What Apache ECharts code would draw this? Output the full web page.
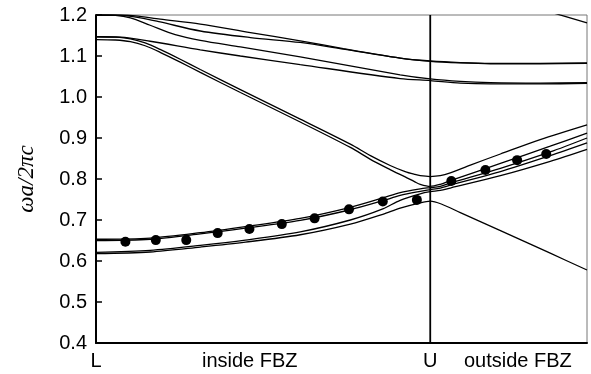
<!DOCTYPE html>
<html>
<head>
<meta charset="utf-8">
<script src="https://cdn.jsdelivr.net/npm/echarts@6/dist/echarts.min.js"></script>
<style>
  html, body { margin: 0; padding: 0; background: #fff; }
  #band-chart { width: 591px; height: 374px; }
</style>
</head>
<body>
<div id="band-chart"></div>
<script>
// k along the path: L = 0, U = 1, beyond U is outside the first Brillouin zone
const xTickPositions = [0, 0.46, 1, 1.262];
const xTickLabels = ['L', 'inside FBZ', 'U', 'outside FBZ'];

// upper bands starting at 1.2 / 1.147
const bandT1 = [[0,1.2],[0.073,1.2],[0.118,1.198],[0.192,1.19],[0.312,1.178],[0.462,1.157],[0.611,1.137],[0.74,1.118],[0.91,1.095],[1,1.087],[1.09,1.083],[1.18,1.081],[1.329,1.081],[1.469,1.082]];
const bandT2 = [[0,1.2],[0.073,1.199],[0.133,1.193],[0.192,1.183],[0.312,1.161],[0.462,1.145],[0.611,1.133],[0.74,1.117],[0.91,1.095],[1,1.088],[1.09,1.084],[1.18,1.082],[1.329,1.082],[1.469,1.083]];
const bandT3 = [[0,1.2],[0.058,1.199],[0.103,1.193],[0.162,1.175],[0.237,1.152],[0.312,1.138],[0.432,1.122],[0.611,1.098],[0.91,1.054],[1,1.044],[1.09,1.038],[1.18,1.035],[1.329,1.034],[1.469,1.035]];
const bandT4 = [[0,1.147],[0.073,1.146],[0.162,1.136],[0.312,1.115],[0.432,1.1],[0.611,1.079],[0.91,1.045],[1,1.04],[1.09,1.034],[1.18,1.032],[1.329,1.032],[1.469,1.033]];
const bandTopRight = [[1.36,1.207],[1.469,1.181]];

// steep pair from 1.145 down to U
const bandS1 = [[0,1.147],[0.058,1.146],[0.103,1.142],[0.147,1.132],[0.192,1.116],[0.252,1.092],[0.312,1.067],[0.432,1.018],[0.611,0.946],[0.761,0.885],[0.821,0.857],[0.88,0.833],[0.925,0.818],[0.954,0.811],[0.97,0.808],[1,0.806],[1.03,0.808],[1.06,0.815],[1.12,0.834],[1.21,0.861],[1.329,0.896],[1.469,0.932]];
const bandS2 = [[0,1.14],[0.058,1.139],[0.103,1.135],[0.147,1.125],[0.192,1.109],[0.252,1.085],[0.312,1.06],[0.432,1.011],[0.611,0.939],[0.761,0.877],[0.821,0.848],[0.88,0.823],[0.925,0.805],[0.954,0.793],[0.97,0.787],[1,0.782],[1.03,0.787],[1.06,0.796],[1.21,0.838],[1.359,0.88],[1.469,0.912]];

// lower bands starting at 0.65 / 0.62
const bandB1 = [[0,0.653],[0.162,0.656],[0.312,0.669],[0.447,0.684],[0.611,0.704],[0.761,0.731],[0.858,0.754],[0.91,0.767],[0.97,0.776],[1,0.779],[1.03,0.782],[1.06,0.79],[1.21,0.826],[1.359,0.866],[1.469,0.9]];
const bandB2 = [[0,0.65],[0.162,0.653],[0.312,0.666],[0.447,0.68],[0.611,0.699],[0.761,0.725],[0.858,0.747],[0.91,0.76],[0.97,0.77],[1,0.774],[1.03,0.778],[1.06,0.785],[1.21,0.818],[1.359,0.857],[1.469,0.888]];
const bandB3 = [[0,0.618],[0.162,0.622],[0.312,0.634],[0.447,0.646],[0.611,0.664],[0.761,0.69],[0.858,0.714],[0.91,0.729],[0.97,0.742],[1,0.746],[1.033,0.739],[1.09,0.718],[1.21,0.674],[1.359,0.619],[1.469,0.578]];
const bandB4 = [[0,0.621],[0.162,0.626],[0.312,0.638],[0.447,0.651],[0.611,0.671],[0.761,0.7],[0.858,0.727],[0.91,0.748],[0.97,0.764],[1,0.769],[1.03,0.772],[1.06,0.778],[1.21,0.808],[1.359,0.843],[1.469,0.872]];

// measured points
const measuredK = [0.088, 0.179, 0.27, 0.364, 0.459, 0.556, 0.654, 0.757, 0.858, 0.96, 1.063, 1.165, 1.26, 1.347];
const measuredFreq = [0.647, 0.651, 0.651, 0.668, 0.678, 0.69, 0.704, 0.726, 0.745, 0.749, 0.795, 0.822, 0.846, 0.861];

const uLine = [[1, 0.4], [1, 1.2]];

const bands = [bandT1, bandT2, bandT3, bandT4, bandTopRight, bandS1, bandS2, bandB1, bandB2, bandB3, bandB4];

const chart = echarts.init(document.getElementById('band-chart'));

const series = bands.map(function (b) {
  return {
    type: 'line',
    data: b,
    smooth: 0.3,
    showSymbol: false,
    silent: true,
    lineStyle: { color: '#000', width: 1.3 }
  };
});

series.push({
  type: 'line',
  data: uLine,
  showSymbol: false,
  silent: true,
  lineStyle: { color: '#000', width: 1.8 }
});

series.push({
  type: 'scatter',
  data: measuredK.map(function (k, i) { return [k, measuredFreq[i]]; }),
  symbolSize: 10,
  itemStyle: { color: '#000', opacity: 1 },
  z: 5
});

const option = {
  animation: false,
  grid: {
    left: 96,
    right: 4,
    top: 15,
    bottom: 31,
    show: true,
    borderColor: '#777',
    borderWidth: 1
  },
  xAxis: {
    type: 'value',
    min: 0,
    max: 1.469,
    splitLine: { show: false },
    axisLine: { lineStyle: { color: '#000', width: 2 } },
    axisTick: { show: false },
    axisLabel: {
      customValues: xTickPositions,
      formatter: function (v) {
        const i = xTickPositions.indexOf(v);
        return i >= 0 ? xTickLabels[i] : '';
      },
      color: '#000',
      fontSize: 20,
      fontFamily: 'Liberation Sans',
      margin: 8
    }
  },
  yAxis: {
    type: 'value',
    min: 0.4,
    max: 1.2,
    interval: 0.1,
    name: 'ωa/2πc',
    nameLocation: 'middle',
    nameGap: 58,
    nameTextStyle: {
      color: '#000',
      fontSize: 23,
      fontStyle: 'italic',
      fontFamily: 'Liberation Serif'
    },
    splitLine: { show: false },
    axisLine: { lineStyle: { color: '#000', width: 2 } },
    axisTick: { inside: true, length: 6, lineStyle: { color: '#000', width: 1.5 } },
    axisLabel: {
      color: '#000',
      fontSize: 20,
      fontFamily: 'Liberation Sans',
      margin: 9,
      formatter: function (v) { return v.toFixed(1); }
    }
  },
  series: series
};

chart.setOption(option);
</script>
</body>
</html>
